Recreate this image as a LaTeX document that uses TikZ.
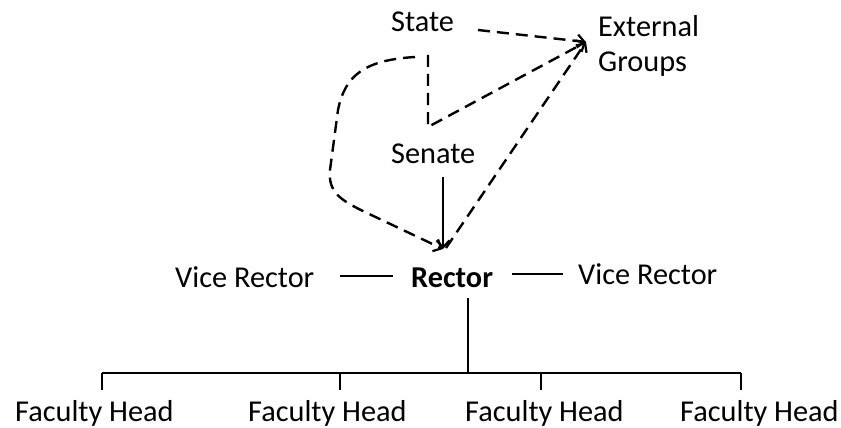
\documentclass[tikz,border=0pt]{standalone}
\usepackage{fontspec}
\setmainfont{Carlito}
\usetikzlibrary{arrows.meta}
\begin{document}
\begin{tikzpicture}[x=1pt,y=-1pt,
 lbl/.style={inner sep=0pt, anchor=base west, font=\fontsize{30.3}{36}\selectfont},
 dline/.style={line width=2.4pt, dash pattern=on 12pt off 7pt},
 sline/.style={line width=2.3pt},
 tip/.style={-{Straight Barb[length=7pt,width=13pt,line width=2.2pt]}}
]
\useasboundingbox (0,0) rectangle (841,428);
% labels
\node[lbl] (state) at (391,32) {State};
\node[lbl] (ext) at (598,37) {External};
\node[lbl] (grp) at (598,72) {Groups};
\node[lbl] (senate) at (391,163) {Senate};
\node[lbl] (vrl) at (175,287) {Vice Rector};
\node[lbl,font=\fontsize{30.3}{36}\selectfont\bfseries] (rector) at (411,287) {Rector};
\node[lbl] (vrr) at (578,284) {Vice Rector};
\node[lbl] (f1) at (15,421) {Faculty Head};
\node[lbl] (f2) at (248,421) {Faculty Head};
\node[lbl] (f3) at (465,421) {Faculty Head};
\node[lbl] (f4) at (680,421) {Faculty Head};
% named points
\coordinate (eg) at (586,42);
\coordinate (st1) at (478,30);
\coordinate (sd1) at (428,55);
\coordinate (sd2) at (428,127);
\coordinate (lp) at (415,57);
\coordinate (rt) at (443,249);
\coordinate (rs) at (446,248);
\coordinate (sn) at (443,177);
\coordinate (rl1) at (340,276);
\coordinate (rl2) at (393,276);
\coordinate (rr1) at (512,274);
\coordinate (rr2) at (563,274);
\coordinate (rd1) at (468,298);
\coordinate (rd2) at (468,373);
\coordinate (b1) at (102,373);
\coordinate (b2) at (340,373);
\coordinate (b3) at (541,373);
\coordinate (b4) at (741,373);
% dashed connectors
\draw[dline,tip] (st1) -- (eg);
\draw[dline,tip] (sd1) -- (sd2) -- (eg);
\draw[dline,tip] (rs) -- (eg);
\draw[dline,tip] (lp) .. controls (365,60) and (345,75) .. (338,110) -- (330,170) .. controls (328,192) and (340,200) .. (365,212) -- (rt);
% solid connectors
\draw[sline,tip] (sn) -- (rt);
\draw[sline] (rl1) -- (rl2);
\draw[sline] (rr1) -- (rr2);
\draw[sline] (rd1) -- (rd2);
\draw[sline] (b1) -- (b4);
\foreach \b in {b1,b2,b3,b4} \draw[sline] (\b) -- ++(0,17);
\end{tikzpicture}
\end{document}
